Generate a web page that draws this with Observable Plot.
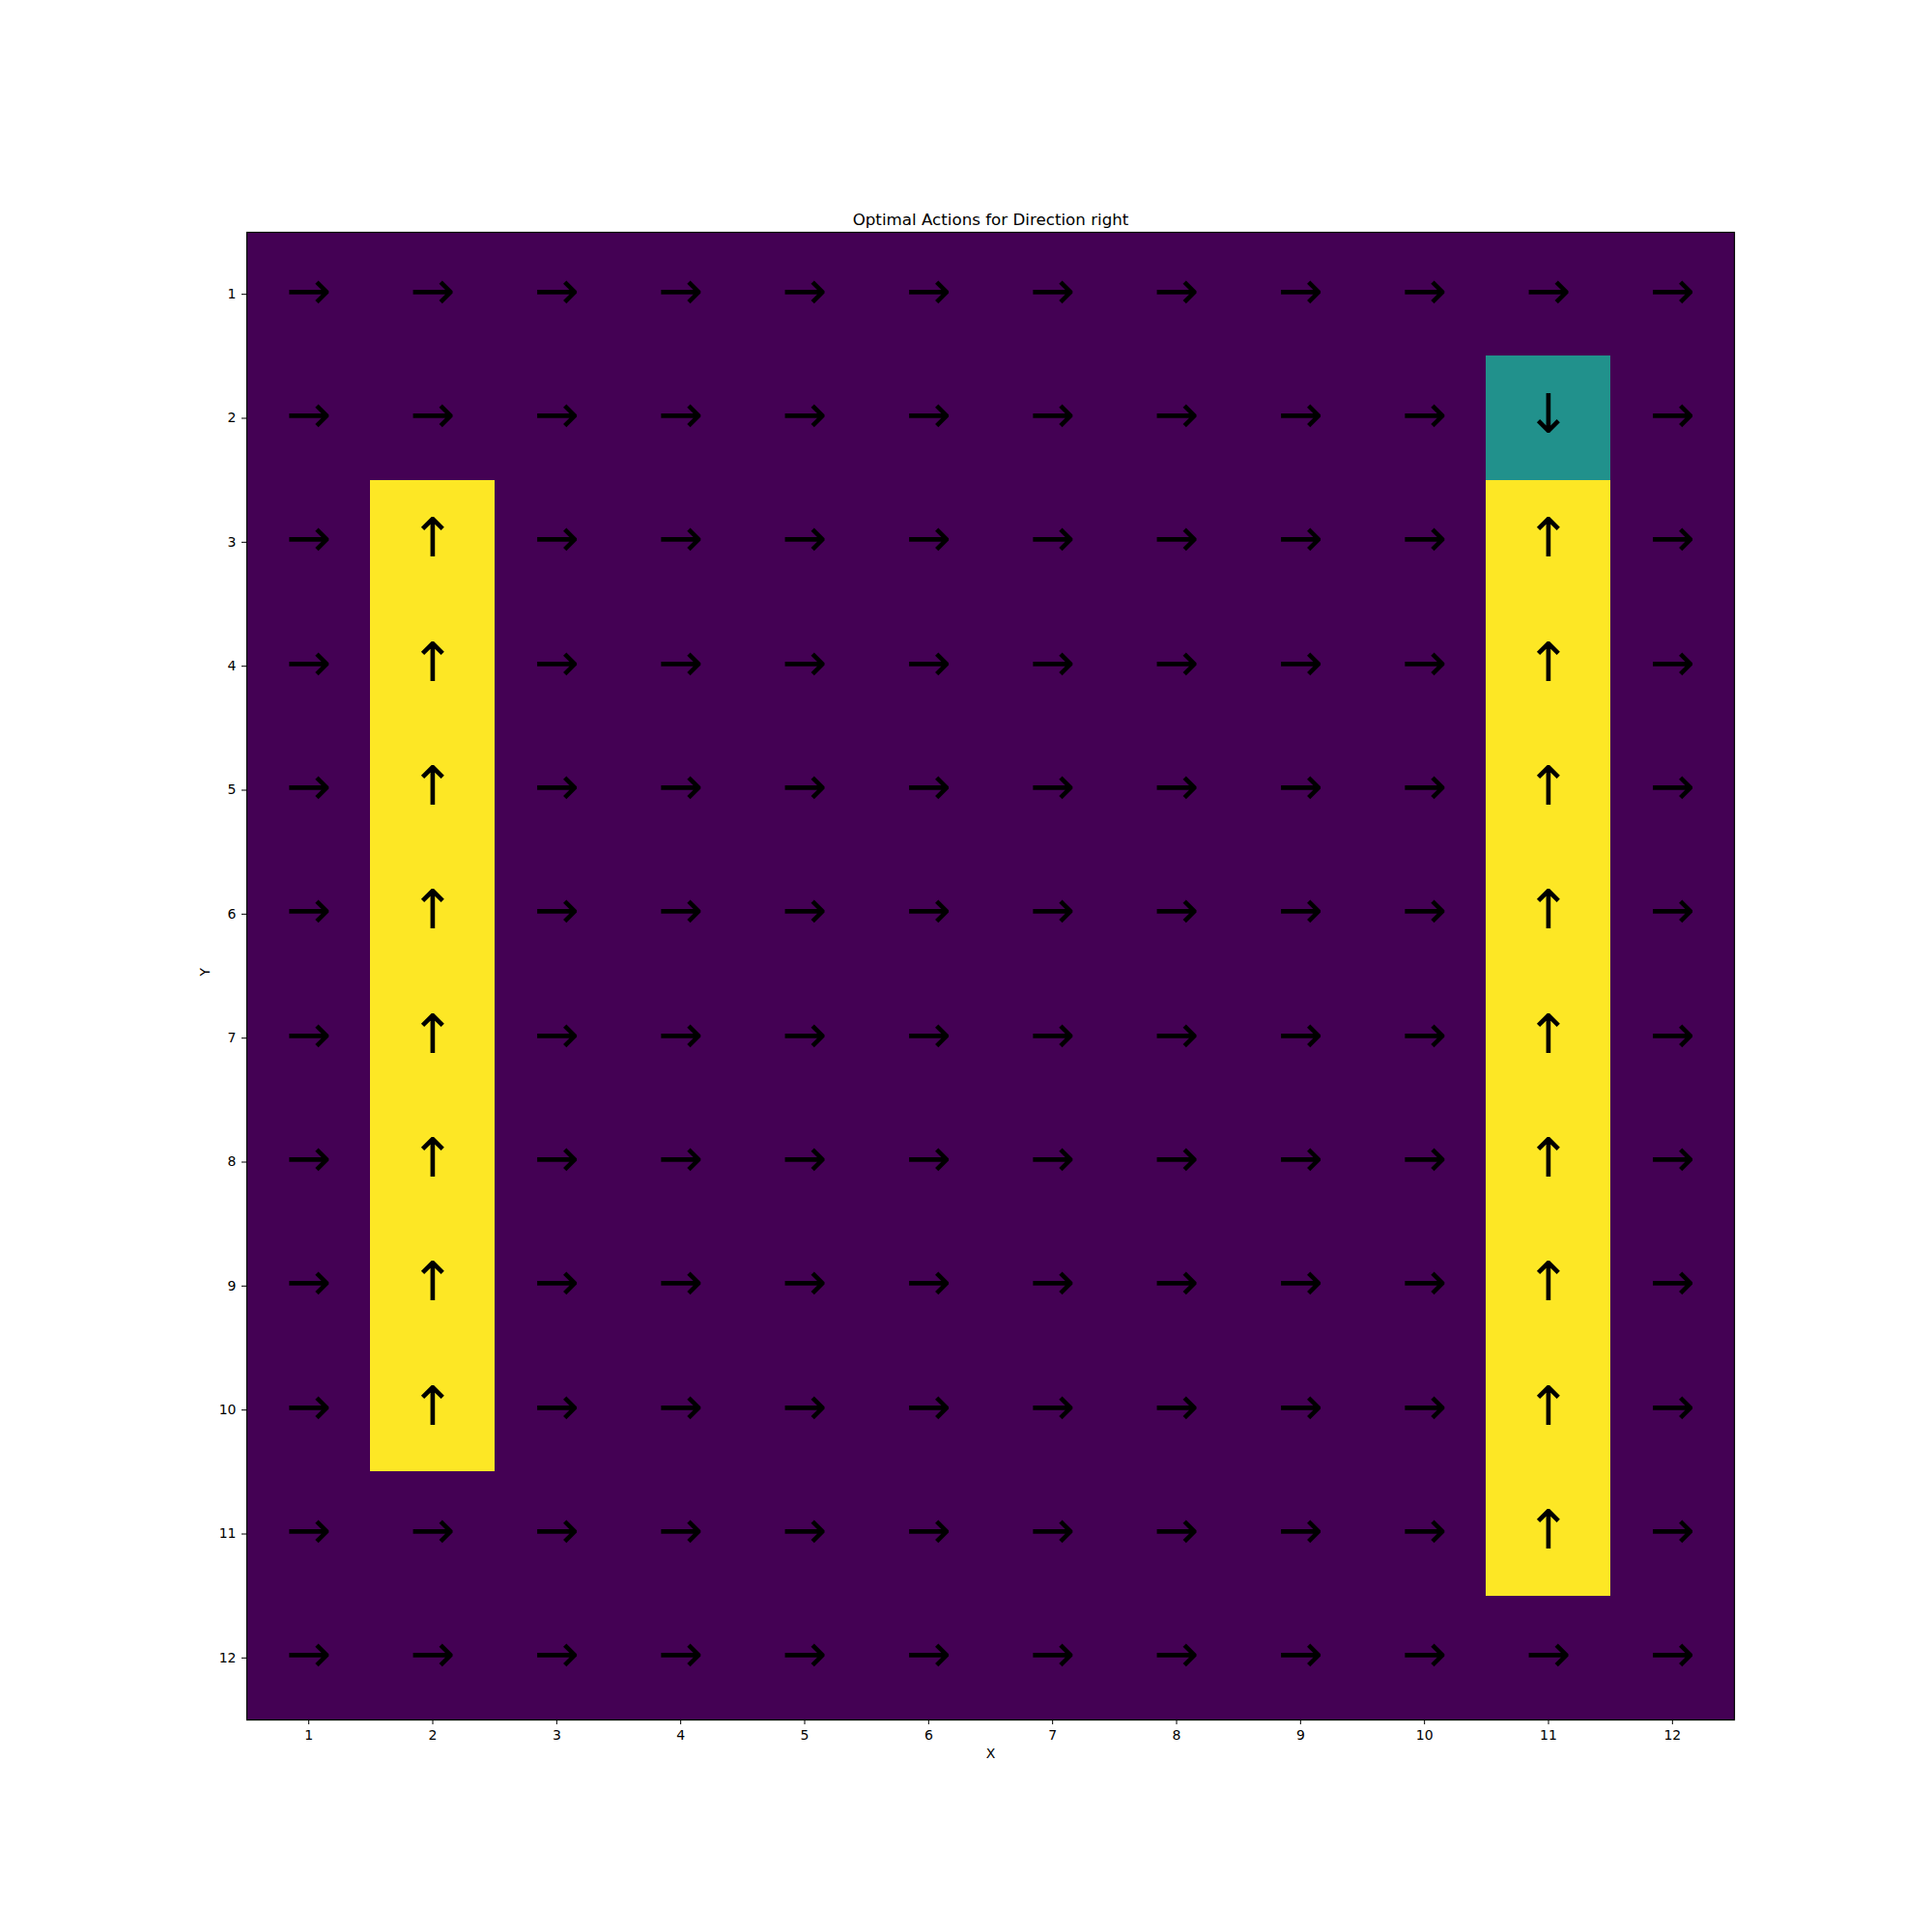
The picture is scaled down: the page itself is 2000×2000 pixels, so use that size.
<!DOCTYPE html>
<html>
<head>
<meta charset="utf-8">
<script src="https://cdn.jsdelivr.net/npm/d3@7"></script>
<script src="https://cdn.jsdelivr.net/npm/@observablehq/plot@0.6"></script>
<style>
  html, body { margin: 0; padding: 0; background: #fff; }
  #chart svg { display: block; }
</style>
</head>
<body>
<div id="chart"></div>
<script>
const titleText = "Optimal Actions for Direction right";
const xLabel = "X";
const yLabel = "Y";
const xTicks = [1, 2, 3, 4, 5, 6, 7, 8, 9, 10, 11, 12];
const yTicks = [1, 2, 3, 4, 5, 6, 7, 8, 9, 10, 11, 12];
// one string per row (y = 1 .. 12), one letter per column (x = 1 .. 12)
const actionRows = [
  "RRRRRRRRRRRR",
  "RRRRRRRRRRDR",
  "RURRRRRRRRUR",
  "RURRRRRRRRUR",
  "RURRRRRRRRUR",
  "RURRRRRRRRUR",
  "RURRRRRRRRUR",
  "RURRRRRRRRUR",
  "RURRRRRRRRUR",
  "RURRRRRRRRUR",
  "RRRRRRRRRRUR",
  "RRRRRRRRRRRR"
];
const actionValue = {R: 0, D: 1, U: 2};
const actionGlyph = {R: "→", D: "↓", U: "↑"};

const cells = [];
yTicks.forEach((y, i) => {
  xTicks.forEach((x, j) => {
    const a = actionRows[i][j];
    cells.push({x, y, a, v: actionValue[a], g: actionGlyph[a]});
  });
});

const chart = Plot.plot({
  width: 2000,
  height: 2000,
  marginLeft: 255,
  marginRight: 205,
  marginTop: 240,
  marginBottom: 220,
  style: {fontFamily: "DejaVu Sans", fontSize: "14px", color: "black", background: "white"},
  x: {type: "band", domain: xTicks, padding: 0, round: false},
  y: {type: "band", domain: yTicks, padding: 0, round: false},
  color: {type: "linear", scheme: "viridis", domain: [0, 2]},
  marks: [
    Plot.cell(cells, {x: "x", y: "y", fill: "v", inset: 0, shapeRendering: "crispEdges"}),
    Plot.text(cells, {x: "x", y: "y", text: "g", fill: "black", fontSize: 56, fontFamily: "DejaVu Sans", dy: -3}),
    Plot.frame({stroke: "black", strokeWidth: 1.2}),
    Plot.axisX({tickSize: 5, tickPadding: 6, label: null, fontSize: 14}),
    Plot.axisY({tickSize: 5, tickPadding: 6, label: null, fontSize: 14}),
    Plot.text([titleText], {frameAnchor: "top", lineAnchor: "bottom", dy: -8, fontSize: 16.7, fill: "black"}),
    Plot.text([xLabel], {frameAnchor: "bottom", lineAnchor: "middle", dy: 35, fontSize: 14, fill: "black"}),
    Plot.text([yLabel], {frameAnchor: "left", lineAnchor: "middle", dx: -43, rotate: -90, fontSize: 14, fill: "black"})
  ]
});
document.getElementById("chart").appendChild(chart);
</script>
</body>
</html>
